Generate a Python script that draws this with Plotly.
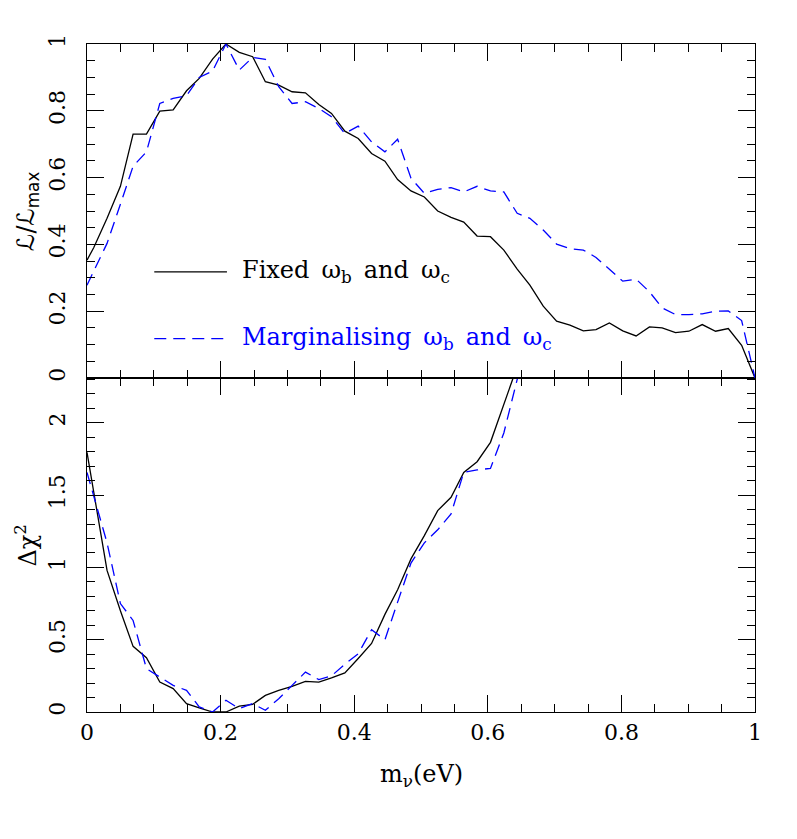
import plotly.graph_objects as go

# ---------------- data ----------------
m_top = [0.0, 0.010, 0.030, 0.050, 0.069, 0.089, 0.109, 0.129, 0.149, 0.168,
         0.188, 0.208, 0.228, 0.248, 0.267, 0.287, 0.307, 0.327, 0.347, 0.366,
         0.386, 0.406, 0.426, 0.446, 0.465, 0.485, 0.505, 0.525, 0.545, 0.564,
         0.584, 0.604, 0.624, 0.644, 0.663, 0.683, 0.703, 0.723, 0.743, 0.762,
         0.782, 0.802, 0.822, 0.842, 0.861, 0.881, 0.901, 0.921, 0.941, 0.960,
         0.980, 1.0]

like_fixed = [0.353, 0.39, 0.478, 0.574, 0.730, 0.730, 0.799, 0.803, 0.860, 0.897,
              0.955, 1.0, 0.975, 0.962, 0.887, 0.877, 0.857, 0.854, 0.819, 0.792,
              0.739, 0.717, 0.672, 0.649, 0.594, 0.560, 0.542, 0.500, 0.481, 0.467,
              0.425, 0.423, 0.383, 0.326, 0.278, 0.215, 0.170, 0.158, 0.141, 0.145,
              0.165, 0.141, 0.126, 0.153, 0.150, 0.136, 0.140, 0.160, 0.140, 0.148,
              0.098, 0.0]

like_marg = [0.278, 0.32, 0.403, 0.52, 0.634, 0.677, 0.822, 0.837, 0.845, 0.90,
             0.919, 1.0, 0.922, 0.960, 0.954, 0.872, 0.822, 0.827, 0.807, 0.782,
             0.732, 0.754, 0.707, 0.677, 0.715, 0.598, 0.553, 0.565, 0.570, 0.557,
             0.574, 0.560, 0.557, 0.493, 0.478, 0.443, 0.401, 0.387, 0.383, 0.361,
             0.325, 0.290, 0.296, 0.258, 0.210, 0.190, 0.190, 0.192, 0.200, 0.201,
             0.172, 0.0]

m_chi = [0.0, 0.010, 0.030, 0.050, 0.069, 0.089, 0.109, 0.129, 0.149, 0.168,
         0.188, 0.208, 0.228, 0.248, 0.267, 0.287, 0.307, 0.327, 0.347, 0.366,
         0.386, 0.406, 0.426, 0.446, 0.465, 0.485, 0.505, 0.525, 0.545, 0.564,
         0.584, 0.604, 0.624, 0.644, 0.663]

chi_fixed = [1.796, 1.52, 0.979, 0.70, 0.454, 0.376, 0.207, 0.162, 0.058, 0.028,
             0.0, 0.0, 0.041, 0.053, 0.115, 0.150, 0.177, 0.212, 0.207, 0.236,
             0.270, 0.370, 0.474, 0.675, 0.845, 1.059, 1.220, 1.393, 1.485, 1.657,
             1.731, 1.865, 2.118, 2.39, 2.65]

chi_marg = [1.657, 1.50, 1.17, 0.75, 0.633, 0.30, 0.242, 0.184, 0.150, 0.035,
            0.0, 0.081, 0.023, 0.058, 0.012, 0.092, 0.184, 0.276, 0.224, 0.25,
            0.33, 0.403, 0.569, 0.500, 0.76, 1.03, 1.17, 1.26, 1.37, 1.657,
            1.674, 1.685, 1.93, 2.30, 2.60]

x_tickvals = [0, 0.2, 0.4, 0.6, 0.8, 1]
x_ticktext = ["0", "0.2", "0.4", "0.6", "0.8", "1"]
like_tickvals = [0, 0.2, 0.4, 0.6, 0.8, 1]
like_ticktext = ["0", "0.2", "0.4", "0.6", "0.8", "1"]
chi_tickvals = [0, 0.5, 1, 1.5, 2]
chi_ticktext = ["0", "0.5", "1", "1.5", "2"]

SP = "\u2002"
label_fixed = "Fixed" + SP + "ω<sub>b</sub>" + SP + "and" + SP + "ω<sub>c</sub>"
label_marg = "Marginalising" + SP + "ω<sub>b</sub>" + SP + "and" + SP + "ω<sub>c</sub>"
xlabel = "m<sub>ν</sub>(eV)"
ylabel_top = "ℒ/ℒ<sub>max</sub>"
ylabel_bot = "Δχ<sup>2</sup>"

# ---------------- style ----------------
FONT = "DejaVu Serif"
BLACK = "#000000"
BLUE = "#0000ff"
DASH = "12px,7px"
LW = 1.3

fig = go.Figure()
fig.add_trace(go.Scatter(x=m_top, y=like_fixed, xaxis="x2", yaxis="y2", mode="lines",
                         line=dict(color=BLACK, width=LW), showlegend=False))
fig.add_trace(go.Scatter(x=m_top, y=like_marg, xaxis="x2", yaxis="y2", mode="lines",
                         line=dict(color=BLUE, width=LW, dash=DASH), showlegend=False))
fig.add_trace(go.Scatter(x=m_chi, y=chi_fixed, xaxis="x", yaxis="y", mode="lines",
                         line=dict(color=BLACK, width=LW), showlegend=False))
fig.add_trace(go.Scatter(x=m_chi, y=chi_marg, xaxis="x", yaxis="y", mode="lines",
                         line=dict(color=BLUE, width=LW, dash=DASH), showlegend=False))

def axis(**kw):
    base = dict(showline=True, linecolor=BLACK, linewidth=1.3, mirror="ticks",
                ticks="inside", ticklen=17, tickwidth=1.3, tickcolor=BLACK,
                showgrid=False, zeroline=False,
                tickfont=dict(family=FONT, size=22, color=BLACK))
    base.update(kw)
    return base

MINOR = dict(ticks="inside", ticklen=8, tickwidth=1.3, tickcolor=BLACK)

fig.update_layout(
    width=797, height=839,
    margin=dict(l=79, r=50, t=36, b=135),
    paper_bgcolor="white", plot_bgcolor="white",
    xaxis=axis(domain=[0, 1], anchor="y", range=[0, 1],
               tickvals=x_tickvals, ticktext=x_ticktext, ticklabelstandoff=0,
               minor=dict(dtick=0.05, **MINOR)),
    yaxis=axis(domain=[0, 0.5], anchor="x", range=[0, 2.31],
               tickvals=chi_tickvals, ticktext=chi_ticktext, tickangle=-90, ticklabelstandoff=12,
               minor=dict(dtick=0.1, **MINOR)),
    xaxis2=axis(domain=[0, 1], anchor="y2", range=[0, 1], matches="x",
                tickvals=x_tickvals, showticklabels=False,
                minor=dict(dtick=0.05, **MINOR)),
    yaxis2=axis(domain=[0.5, 1], anchor="x2", range=[0, 1],
                tickvals=like_tickvals, ticktext=like_ticktext, tickangle=-90, ticklabelstandoff=12,
                minor=dict(dtick=0.05, **MINOR)),
)

# legend sample lines
fig.add_shape(type="line", xref="x2", yref="y2", x0=0.1007, x1=0.2095, y0=0.318, y1=0.318,
              line=dict(color=BLACK, width=LW))
fig.add_shape(type="line", xref="x2", yref="y2", x0=0.1007, x1=0.2095, y0=0.118, y1=0.118,
              line=dict(color=BLUE, width=LW, dash=DASH))

fig.add_annotation(xref="x2", yref="y2", x=0.229, y=0.318, text=label_fixed,
                   showarrow=False, xanchor="left", yanchor="middle",
                   font=dict(family=FONT, size=24, color=BLACK))
fig.add_annotation(xref="x2", yref="y2", x=0.229, y=0.118, text=label_marg,
                   showarrow=False, xanchor="left", yanchor="middle",
                   font=dict(family=FONT, size=24, color=BLUE))

# axis titles
fig.add_annotation(xref="paper", yref="paper", x=-0.09, y=0.75, text=ylabel_top,
                   textangle=-90, showarrow=False, xanchor="center", yanchor="middle",
                   font=dict(family="DejaVu Sans, DejaVu Serif", size=24, color=BLACK))
fig.add_annotation(xref="paper", yref="paper", x=-0.092, y=0.25, text=ylabel_bot,
                   textangle=-90, showarrow=False, xanchor="center", yanchor="middle",
                   font=dict(family=FONT, size=24, color=BLACK))
fig.add_annotation(xref="paper", yref="paper", x=0.5, y=-0.095, text=xlabel,
                   showarrow=False, xanchor="center", yanchor="middle",
                   font=dict(family=FONT, size=24, color=BLACK))

fig.write_html("out.html")
